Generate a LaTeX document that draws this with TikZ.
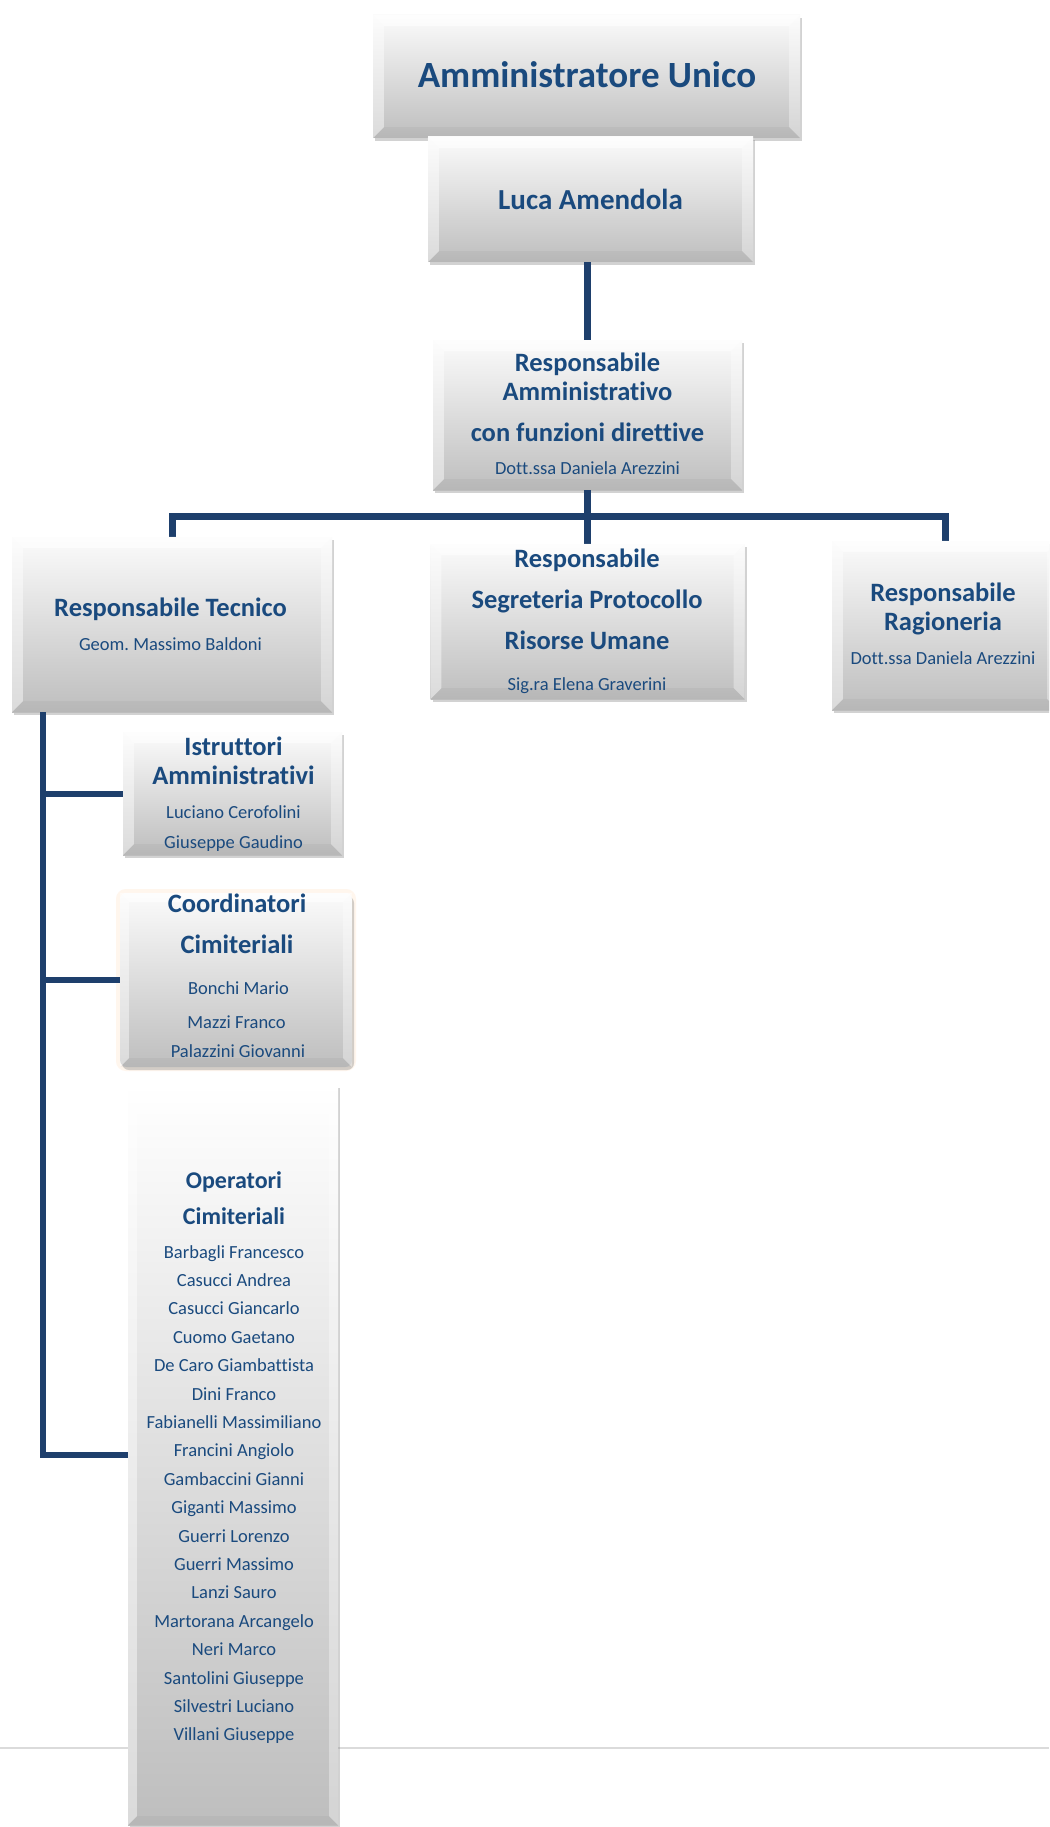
\documentclass[tikz,border=0pt]{standalone}
\usepackage{fontspec}
\setmainfont{Carlito}[RawFeature=-liga]
\usetikzlibrary{shadows}
\definecolor{txt}{HTML}{1A4A7E}
\definecolor{linkc}{HTML}{1E3F6C}
\definecolor{btop}{HTML}{FBFBFB}
\definecolor{bbot}{HTML}{BEBEBE}
\frenchspacing
\tikzset{
  box/.style={rectangle, inner sep=0pt, top color=btop, bottom color=bbot,
    drop shadow={shadow xshift=2pt, shadow yshift=-3pt, opacity=0.35, fill=gray}},
  tit/.style={inner sep=0pt, text=txt, font=\bfseries\fontsize{37}{40}\selectfont, text height=24pt, text depth=0pt},
  lu/.style={inner sep=0pt, text=txt, font=\bfseries\fontsize{29}{32}\selectfont, text height=18.7pt, text depth=0pt},
  hd/.style={inner sep=0pt, text=txt, font=\bfseries\fontsize{26.5}{30}\selectfont, text height=17pt, text depth=0pt},
  hs/.style={inner sep=0pt, text=txt, font=\bfseries\fontsize{24}{28}\selectfont, text height=15.5pt, text depth=0pt},
  nm/.style={inner sep=0pt, text=txt, font=\fontsize{18.5}{22}\selectfont, text height=12pt, text depth=0pt},
  link/.style={draw=linkc, line width=7pt},
  tlink/.style={draw=linkc, line width=6pt},
}
\newcommand\mybevel[2][11]{%
  \fill[white,opacity=0.6] (#2.north west) -- (#2.north east) -- ([xshift=-#1pt,yshift=-#1pt]#2.north east) -- ([xshift=#1pt,yshift=-#1pt]#2.north west) -- cycle;
  \fill[white,opacity=0.45] (#2.north west) -- ([xshift=#1pt,yshift=-#1pt]#2.north west) -- ([xshift=#1pt,yshift=#1pt]#2.south west) -- (#2.south west) -- cycle;
  \fill[white,opacity=0.35] (#2.north east) -- ([xshift=-#1pt,yshift=-#1pt]#2.north east) -- ([xshift=-#1pt,yshift=#1pt]#2.south east) -- (#2.south east) -- cycle;
  \fill[black,opacity=0.035] (#2.south west) -- ([xshift=#1pt,yshift=#1pt]#2.south west) -- ([xshift=-#1pt,yshift=#1pt]#2.south east) -- (#2.south east) -- cycle;
}
\begin{document}
\begin{tikzpicture}[x=1pt,y=-1pt]
\clip (0,0) rectangle (1049,1827);
\fill[white] (0,0) rectangle (1049,1827);

% page line
\coordinate (pl1) at (0,1748);
\coordinate (pl2) at (1049,1748);
\draw[gray!28, line width=2pt] (pl1) -- (pl2);

% boxes
\node[box, minimum width=427pt, minimum height=123pt] (adm) at (586.5,76.5) {};
\mybevel{adm}
\node[box, minimum width=325pt, minimum height=125pt] (luca) at (590.5,199.5) {};
\mybevel{luca}
\node[box, minimum width=309pt, minimum height=150pt] (ramm) at (587.5,415) {};
\mybevel{ramm}

% connectors
\coordinate (bar) at (587.5,516);
\coordinate (trunk) at (43,712);
\draw[link] (ramm.north |- luca.south) -- (ramm.north);
\draw[link] (ramm.south) -- (bar);

\node[box, minimum width=320pt, minimum height=175pt] (tec) at (172,624.5) {};
\node[box, minimum width=314pt, minimum height=155pt] (seg) at (587.5,621.5) {};
\node[box, minimum width=226pt, minimum height=169pt] (rag) at (945,625.5) {};
\draw[link] (tec.north) |- (bar) -| (rag.north);
\draw[link] (bar) -- (seg.north);
\mybevel{tec}
\mybevel{seg}
\mybevel{rag}

\node[box, minimum width=219pt, minimum height=123pt] (ist) at (232.5,793.5) {};
\mybevel{ist}
\draw[orange!7, line width=4pt, rounded corners=8pt] (118,891) rectangle (354,1069);
\node[box, rounded corners=7pt, minimum width=232pt, minimum height=174pt] (coo) at (236,980) {};
\mybevel[9]{coo}
\node[box, top color=white, bottom color=bbot, minimum width=210pt, minimum height=740pt] (opr) at (233,1455) {};
\mybevel[9]{opr}

\draw[tlink] (trunk) |- (opr.west);
\draw[tlink] (ist.west -| trunk) -- (ist.west);
\draw[tlink] (coo.west -| trunk) -- (coo.west);

% texts
\node[tit] (t0) at (587,76) {Amministratore Unico};
\node[lu] (t1) at (590.5,200) {Luca Amendola};

\node[hd] (ra1) at (587.5,363) {Responsabile};
\node[hd] (ra2) at (587.5,392) {Amministrativo};
\node[hd] (ra3) at (587.5,433) {con funzioni direttive};
\node[nm] (ra4) at (587.5,468) {Dott.ssa Daniela Arezzini};

\node[hd] (te1) at (170.5,608) {Responsabile Tecnico};
\node[nm] (te2) at (170.5,644) {Geom. Massimo Baldoni};

\node[hd] (se1) at (587,559) {Responsabile};
\node[hd] (se2) at (587,600) {Segreteria Protocollo};
\node[hd] (se3) at (587,641) {Risorse Umane};
\node[nm] (se4) at (587,684) {Sig.ra Elena Graverini};

\node[hd] (rg1) at (943,593) {Responsabile};
\node[hd] (rg2) at (943,622) {Ragioneria};
\node[nm] (rg3) at (943,658) {Dott.ssa Daniela Arezzini};

\node[hd] (is1) at (233.5,747) {Istruttori};
\node[hd] (is2) at (233.5,776) {Amministrativi};
\node[nm] (is3) at (233.5,812) {Luciano Cerofolini};
\node[nm] (is4) at (233.5,842) {Giuseppe Gaudino};

\node[hd] (co1) at (237,904) {Coordinatori};
\node[hd] (co2) at (237,945) {Cimiteriali};
\node[nm] (co3) at (238.5,988) {Bonchi Mario};
\node[nm] (co4) at (236.5,1022) {Mazzi Franco};
\node[nm] (co5) at (238,1051) {Palazzini Giovanni};

\node[hs] (op1) at (234,1181) {Operatori};
\node[hs] (op2) at (234,1217) {Cimiteriali};
\foreach \nme [count=\i from 0] in {Barbagli Francesco, Casucci Andrea, Casucci Giancarlo, Cuomo Gaetano, De Caro Giambattista, Dini Franco, Fabianelli Massimiliano, Francini Angiolo, Gambaccini Gianni, Giganti Massimo, Guerri Lorenzo, Guerri Massimo, Lanzi Sauro, Martorana Arcangelo, Neri Marco, Santolini Giuseppe, Silvestri Luciano, Villani Giuseppe}
  \node[nm] (opn\i) at (234,1252+28.41*\i) {\nme};
\end{tikzpicture}
\end{document}
